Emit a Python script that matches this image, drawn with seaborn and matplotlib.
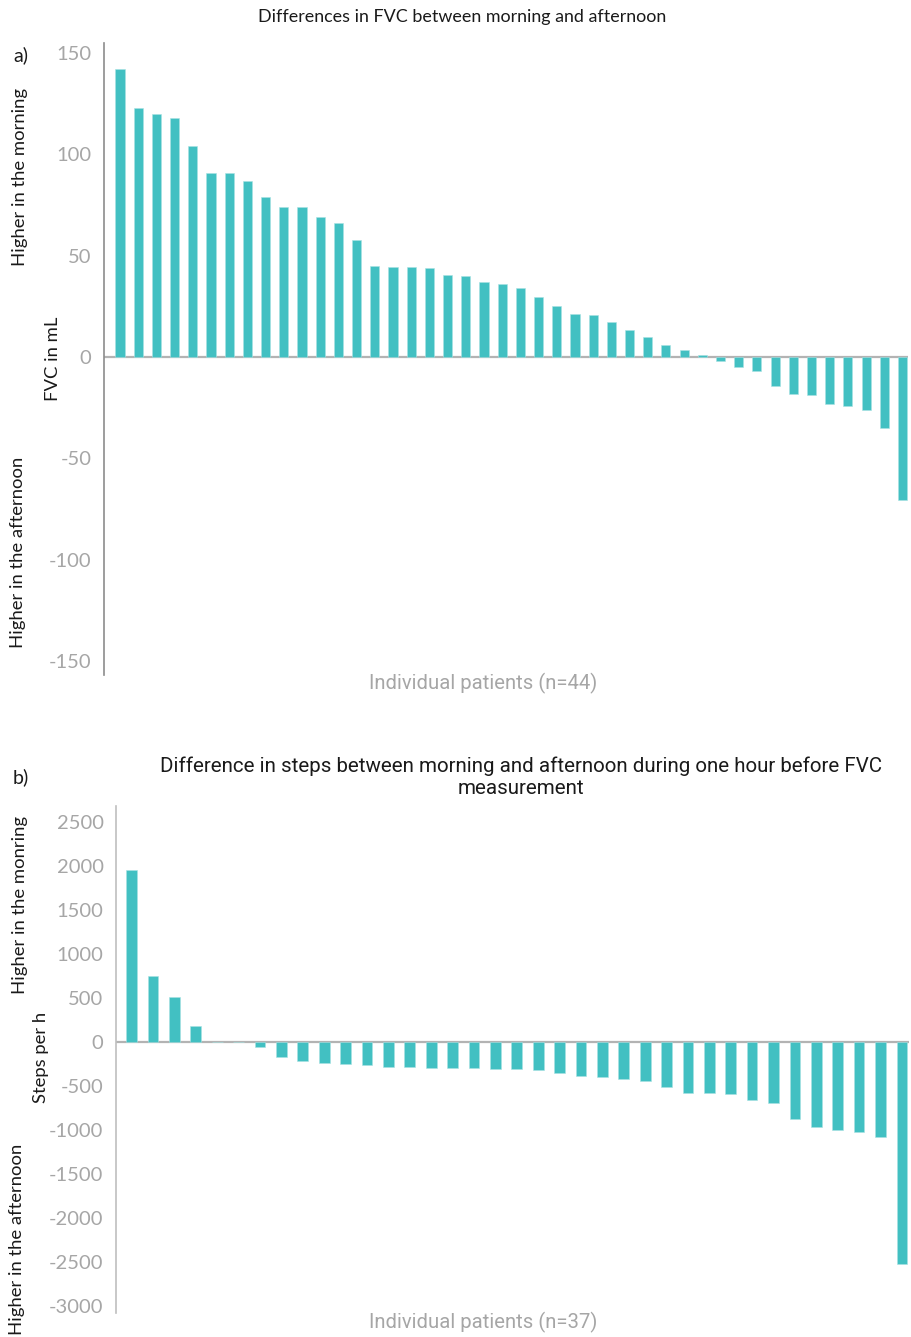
import numpy as np
import seaborn as sns
import matplotlib.pyplot as plt

# FVC difference per patient (mL), morning minus afternoon
fvc_diff = [142, 123, 120, 118, 104, 91, 91, 87, 79, 74, 74, 69, 66, 58,
            45, 44.5, 44.5, 44, 40.5, 40, 37, 36, 34, 29.5, 25, 21, 20.7,
            17.5, 13.3, 10, 6, 3.4, 1.2, -1.9, -4.7, -6.8, -14.3, -18.2,
            -18.9, -23.4, -24.4, -26.3, -34.9, -70.5]

# steps per hour difference per patient
steps_diff = [1960, 748, 511, 178, 5, 2, -50, -166, -212, -235, -246, -265,
              -288, -288, -295, -299, -299, -301, -303, -311, -349, -383,
              -398, -424, -440, -504, -572, -580, -584, -660, -691, -869,
              -960, -993, -1019, -1080, -2515]

fvc_ticks = [-150, -100, -50, 0, 50, 100, 150]
steps_ticks = list(range(-3000, 2501, 500))

teal = "#42C0C2"
tick_grey = "#A6A6A6"

sns.set_style("white")
plt.rcParams["font.family"] = ["Lato", "DejaVu Sans"]
plt.rcParams["axes.unicode_minus"] = False

fig = plt.figure(figsize=(9.12, 13.37), dpi=100)
ax1 = fig.add_axes([0.114, 0.4951, 0.8816, 0.4727])
ax2 = fig.add_axes([0.1272, 0.0180, 0.8695, 0.3794])


def draw(ax, vals, ticks, ylim, xlim, spine_col):
    pats = [str(i + 1) for i in range(len(vals))]
    sns.barplot(x=pats, y=vals, color=teal, saturation=1, width=0.5,
                order=pats, ax=ax, edgecolor="#A8E2E3", linewidth=0.4)
    ax.axhline(0, color="#B3B3B3", lw=1.6, zorder=0)
    ax.set_ylim(*ylim)
    ax.set_xlim(*xlim)
    ax.set_yticks(ticks)
    ax.set_xticks([])
    ax.set_xlabel("")
    ax.set_ylabel("")
    for s in ["top", "right", "bottom"]:
        ax.spines[s].set_visible(False)
    ax.spines["left"].set_color(spine_col)
    ax.spines["left"].set_linewidth(1.2)
    ax.tick_params(axis="y", length=0, labelsize=14.5, labelcolor=tick_grey, pad=9)


draw(ax1, fvc_diff, fvc_ticks, (-157, 155), (-0.88, 43.3), "#8C8C8C")
draw(ax2, steps_diff, steps_ticks, (-3075, 2685), (-0.73, 36.33), "#BFBFBF")

W, H = 912, 1337


def ft(x, y, s, **kw):
    fig.text(x / W, 1 - y / H, s, ha="center", va="center", **kw)


narrow = ["Liberation Sans Narrow", "Roboto", "DejaVu Sans"]
dark = "#1a1a1a"

# panel a
ft(462, 17, "Differences in FVC between morning and afternoon", fontsize=12.9, color=dark)
ft(21, 55, "a)", fontsize=14, color=dark)
ft(20, 177, "Higher in the morning", fontsize=13.3, rotation=90, color=dark)
ft(53, 359, "FVC in mL", fontsize=13.3, rotation=90, color=dark)
ft(18, 552, "Higher in the afternoon", fontsize=13.3, rotation=90, color=dark)
ft(483, 683, "Individual patients (n=44)", fontsize=14.6, color=tick_grey, family=narrow)

# panel b
ft(521, 766, "Difference in steps between morning and afternoon during one hour before FVC",
   fontsize=14.8, color=dark, family=narrow)
ft(521, 789, "measurement", fontsize=14.8, color=dark, family=narrow)
ft(21, 777, "b)", fontsize=14, color=dark)
ft(20, 905, "Higher in the monring", fontsize=13.3, rotation=90, color=dark)
ft(41, 1057, "Steps per h", fontsize=13.3, rotation=90, color=dark)
ft(17, 1239, "Higher in the afternoon", fontsize=13.3, rotation=90, color=dark)
ft(483, 1322, "Individual patients (n=37)", fontsize=14.6, color=tick_grey, family=narrow)

fig.savefig("out.png", dpi=100)
